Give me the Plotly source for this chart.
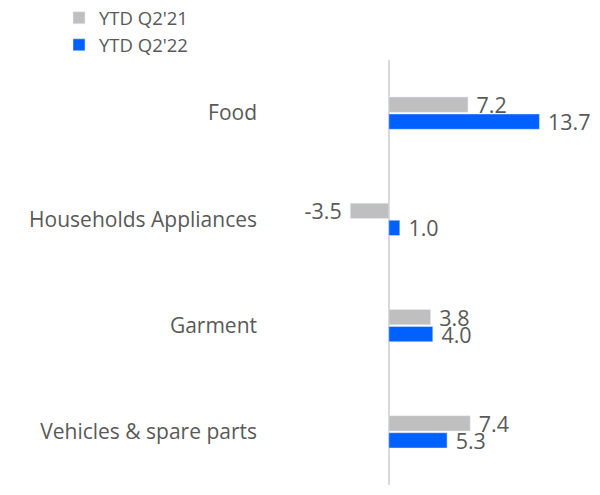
import plotly.graph_objects as go

categories = ["Food", "Households Appliances", "Garment", "Vehicles & spare parts"]
ytd_q2_21 = [7.2, -3.5, 3.8, 7.4]
ytd_q2_22 = [13.7, 1.0, 4.0, 5.3]

text_grey = "#595959"
font_family = "Open Sans, sans-serif"


def label_fmt(values):
    # pad labels away from the bar end, like the original
    return [" %{x:.1f}" if v >= 0 else "%{x:.1f} " for v in values]


fig = go.Figure()
fig.add_trace(go.Bar(
    y=categories, x=ytd_q2_21, name="YTD Q2'21", orientation="h",
    marker_color="#bfbfbf", texttemplate=label_fmt(ytd_q2_21), textposition="outside",
    textfont=dict(size=21.5, color=text_grey), constraintext="none", cliponaxis=False,
))
fig.add_trace(go.Bar(
    y=categories, x=ytd_q2_22, name="YTD Q2'22", orientation="h",
    marker_color="#0061ff", texttemplate=label_fmt(ytd_q2_22), textposition="outside",
    textfont=dict(size=21.5, color=text_grey), constraintext="none", cliponaxis=False,
))

# page body adds an 8px offset; plot area ends up ~258..590 px, zero at 389 px
fig.update_layout(
    width=600, height=495,
    margin=dict(l=250, r=18, t=52, b=18, autoexpand=False),
    paper_bgcolor="white", plot_bgcolor="white",
    font=dict(family=font_family, color=text_grey),
    barmode="group", bargap=0.68, bargroupgap=0.1,
    showlegend=True,
    legend=dict(
        xref="container", yref="paper", x=0.085, y=1.143,
        xanchor="left", yanchor="top",
        font=dict(size=18.5, color=text_grey),
        traceorder="normal", itemwidth=30, tracegroupgap=0,
        bgcolor="rgba(0,0,0,0)",
    ),
    xaxis=dict(
        range=[-11.9, 18.3], showgrid=False, showticklabels=False,
        zeroline=True, zerolinecolor="#d9d9d9", zerolinewidth=2,
        automargin=False,
    ),
    yaxis=dict(
        autorange="reversed", showgrid=False, ticks="", automargin=False,
        tickfont=dict(size=21, color=text_grey), ticklabelstandoff=0,
    ),
)

fig.write_html("out.html")
